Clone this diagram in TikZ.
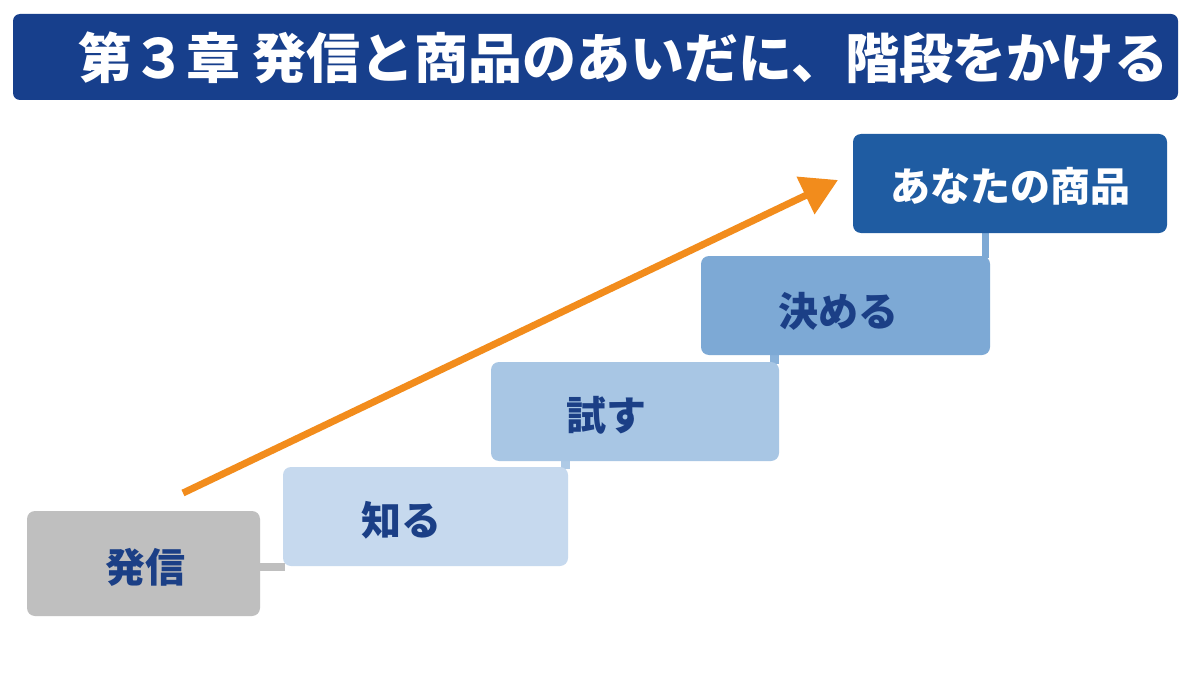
\documentclass[tikz,border=0pt]{standalone}
\usepackage{fontspec}
\setmainfont{Noto Sans CJK JP}
\usetikzlibrary{arrows.meta}
\definecolor{titleblue}{HTML}{173F8C}
\definecolor{txtblue}{HTML}{1B3F86}
\definecolor{boxgray}{HTML}{BFBFBF}
\definecolor{step1}{HTML}{C6D9EE}
\definecolor{step2}{HTML}{A8C6E4}
\definecolor{step3}{HTML}{7DA9D5}
\definecolor{step4}{HTML}{1F5CA2}
\definecolor{arroworange}{HTML}{F28C1C}
\tikzset{
  stepbox/.style={rounded corners=8bp, inner sep=0pt},
  steplabel/.style={font=\fontsize{40bp}{44bp}\selectfont\bfseries, text=txtblue, inner sep=0pt}
}
\begin{document}
\begin{tikzpicture}[x=1bp,y=-1bp]
\useasboundingbox[fill=white] (0,0) rectangle (1200,675);
% title bar
\fill[titleblue, rounded corners=7bp] (13,14) rectangle (1178,100);
\node[anchor=west, text=white, font=\fontsize{54bp}{58bp}\selectfont\bfseries, inner sep=0pt] (title) at (78,58) {第３章 発信と商品のあいだに、階段をかける};
% connectors
\fill[boxgray] (258,563) rectangle (285,571);
\fill[step2!80!step1] (561,458) rectangle (570,469);
\fill[step3!70!step2] (770,352) rectangle (779,364);
\fill[step3] (982,230) rectangle (989,258);
% boxes
\fill[boxgray, stepbox] (27,511) rectangle (260,616);
\fill[step1, stepbox] (283,467) rectangle (568,566);
\fill[step2, stepbox] (491,362) rectangle (779,461);
\fill[step3, stepbox] (701,256) rectangle (990,355);
\fill[step4, stepbox] (853,134) rectangle (1167,233);
% labels
\node[steplabel] (l0) at (145,567) {発信};
\node[steplabel] (l1) at (401,520) {知る};
\node[steplabel] (l2) at (606,415) {試す};
\node[steplabel] (l3) at (838,311) {決める};
\node[steplabel, text=white] (l4) at (1010,186) {あなたの商品};
% arrow
\coordinate (a0) at (183,493);
\coordinate (a1) at (838,180);
\draw[arroworange, line width=7bp, -{Triangle[length=36bp,width=40bp]}] (a0) -- (a1);
\end{tikzpicture}
\end{document}
